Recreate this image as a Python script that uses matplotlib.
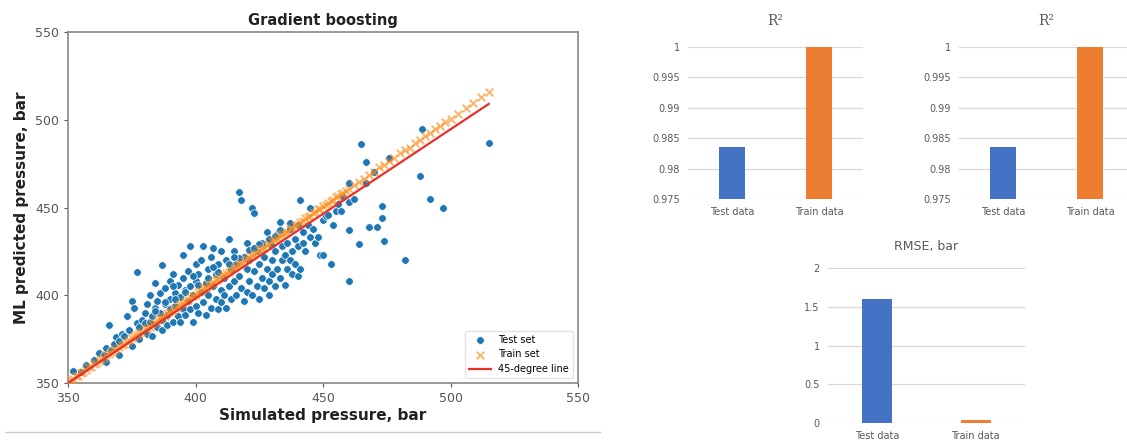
import numpy as np
import matplotlib.pyplot as plt
from matplotlib.lines import Line2D

# Test-set scatter points (simulated, predicted)
test_x = [352, 355, 357, 360, 362, 364, 365, 366, 367, 368, 369, 370, 371, 372, 373, 374, 375, 376, 377, 377, 378, 379, 380,
          365, 370, 375, 378,
          380, 381, 381, 382, 382, 383, 383, 384, 384, 385, 385, 386, 386, 387, 387, 387, 388, 388, 389, 389, 390, 390, 390,
          391, 391, 392, 392, 393, 393, 394, 394, 395, 395, 395, 396, 396, 397, 397, 398, 398, 398, 399, 399, 400, 400, 400,
          401, 401, 402, 402, 403, 403, 404, 404, 405, 405, 406, 406, 407, 407, 408, 408, 409, 409, 410, 410, 410,
          411, 411, 412, 412, 413, 413, 414, 414, 415, 415, 416, 416, 417, 417, 418, 418, 419, 419, 420, 420, 420,
          421, 421, 422, 422, 423, 423, 424, 424, 425, 425, 426, 426, 427, 427, 428, 428, 429, 429, 430, 430, 430,
          431, 431, 432, 432, 433, 433, 434, 434, 435, 435, 436, 436, 437, 437, 438, 438, 439, 439, 440, 440, 440,
          441, 441, 442, 442, 443, 444, 445, 445, 446, 447, 448, 449, 450, 450, 451, 452, 453, 454, 455, 456, 457, 458,
          460, 460, 460, 460, 462,
          464, 465, 467, 467, 468, 471, 473, 473, 474, 482, 488, 489, 492, 497, 515, 470, 476,
          384, 388, 392, 396, 401, 405, 409, 413, 417, 421, 425, 429, 433, 437, 391, 399, 407, 415, 423, 431]
test_y = [357, 356, 360, 363, 367, 366, 370, 383, 369, 372, 376, 374, 378, 377, 388, 380, 397, 393, 413, 384, 382, 386, 384,
          362, 366, 371, 375,
          390, 378, 395, 385, 400, 388, 377, 393, 407, 382, 397, 390, 401, 386, 417, 380, 395, 404, 389, 383, 398, 392, 408,
          412, 385, 401, 394, 388, 406, 385, 399, 423, 392, 410, 403, 389, 397, 414, 428, 392, 405, 385, 400, 418, 394, 408,
          390, 412, 402, 420, 428, 396, 407, 389, 415, 400, 393, 422, 427, 405, 398, 412, 392, 418, 403, 425, 396,
          410, 400, 393, 420, 432, 405, 398, 415, 408, 425, 400, 418, 459, 411, 454, 404, 422, 397, 402, 415, 430,
          408, 420, 450, 400, 447, 414, 425, 405, 418, 398, 430, 410, 404, 422, 415, 436, 408, 400, 420, 428, 412,
          405, 425, 415, 435, 442, 410, 428, 420, 406, 423, 430, 415, 420, 438, 412, 425, 432, 418, 411, 428, 440,
          454, 415, 430, 436, 425, 440, 450, 433, 438, 430, 433, 423, 443, 423, 445, 446, 418, 440, 448, 452, 448, 456,
          437, 453, 464, 408, 455,
          429, 486, 476, 464, 439, 439, 451, 444, 431, 420, 468, 495, 455, 450, 487, 470, 478,
          391, 396, 398, 402, 406, 410, 413, 418, 421, 426, 429, 432, 437, 441, 405, 411, 416, 422, 427, 434]

# Train-set points hug the diagonal
train_x = [350, 351, 352, 353, 354, 355, 356, 357, 358, 359, 360, 361, 362, 363, 364, 365, 366, 367, 368, 369,
           370, 371, 372, 373, 374, 375, 376, 377, 378, 379, 380, 381, 382, 383, 384, 385, 386, 387, 388, 389,
           390, 391, 392, 393, 394, 395, 396, 397, 398, 399, 400, 401, 402, 403, 404, 405, 406, 407, 408, 409,
           410, 411, 412, 413, 414, 415, 416, 417, 418, 419, 420, 421, 422, 423, 424, 425, 426, 427, 428, 429,
           430, 431, 432, 433, 434, 435, 436, 437, 438, 439, 440, 441, 442, 443, 444, 445, 446, 447, 448, 449,
           450, 451, 452, 453, 454, 455, 456, 457, 458, 459, 460, 462, 464, 466, 468, 470, 472, 474, 476, 478,
           480, 482, 484, 486, 488, 490, 492, 494, 496, 498, 500, 503, 506, 509, 512, 515]
train_y = [350.4, 351.6, 352.3, 353.8, 354.2, 355.7, 356.5, 357.3, 358.9, 359.4, 360.6, 361.2, 362.8, 363.5, 364.1,
           365.7, 366.4, 367.9, 368.2, 369.6, 370.3, 371.8, 372.5, 373.1, 374.7, 375.4, 376.9, 377.2, 378.6, 379.3,
           380.8, 381.5, 382.1, 383.7, 384.4, 385.9, 386.2, 387.6, 388.3, 389.8, 390.5, 391.1, 392.7, 393.4, 394.9,
           395.2, 396.6, 397.3, 398.8, 399.5, 400.1, 401.7, 402.4, 403.9, 404.2, 405.6, 406.3, 407.8, 408.5, 409.1,
           410.7, 411.4, 412.9, 413.2, 414.6, 415.3, 416.8, 417.5, 418.1, 419.7, 420.4, 421.9, 422.2, 423.6, 424.3,
           425.8, 426.5, 427.1, 428.7, 429.4, 430.9, 431.2, 432.6, 433.3, 434.8, 435.5, 436.1, 437.7, 438.4, 439.9,
           440.2, 441.6, 442.3, 443.8, 444.5, 445.1, 446.7, 447.4, 448.9, 449.2, 450.6, 451.3, 452.8, 453.5, 454.1,
           455.7, 456.4, 457.9, 458.2, 459.6, 460.3, 462.8, 464.5, 466.1, 468.7, 470.4, 472.9, 474.2, 476.6, 478.3,
           480.8, 482.5, 484.1, 486.7, 488.4, 490.9, 492.2, 494.6, 496.3, 498.8, 500.5, 503.1, 506.7, 509.4, 512.9, 515.6]

line_x = [350, 515]
line_y = [350, 509]

categories = ["Test data", "Train data"]
r2_left = [0.9836, 0.99998]
r2_right = [0.9836, 0.99998]
rmse = [1.60, 0.03]

blue = "#4472C4"
orange = "#ED7D31"
grid_c = "#D9D9D9"
text_c = "#595959"

fig = plt.figure(figsize=(11.27, 4.48), dpi=100)

# Scatter panel
ax = fig.add_axes([68 / 1127, 65 / 448, 510 / 1127, 351 / 448])
ax.scatter(test_x, test_y, s=30, color="#1f77b4", edgecolor="white", linewidth=0.5, label="Test set", zorder=2)
ax.scatter(train_x, train_y, s=30, marker="x", color="#ff8c1a", alpha=0.65, linewidth=1.4, label="Train set", zorder=3)
ax.plot(line_x, line_y, color="#e8312a", linewidth=1.6, label="45-degree line", zorder=4)
ax.set_xlim(350, 550)
ax.set_ylim(350, 550)
ax.set_xticks([350, 400, 450, 500, 550])
ax.set_yticks([350, 400, 450, 500, 550])
ax.tick_params(labelsize=9, colors="#555555", length=3)
for s in ax.spines.values():
    s.set_color("#888888")
    s.set_linewidth(1.2)
ax.set_title("Gradient boosting", fontsize=10.5, fontweight="bold", color="#222222", pad=5)
ax.set_xlabel("Simulated pressure, bar", fontsize=11, fontweight="bold", color="#222222", labelpad=2)
ax.set_ylabel("ML predicted pressure, bar", fontsize=11, fontweight="bold", color="#222222", labelpad=4)
leg = ax.legend(loc="lower right", fontsize=7, frameon=True, handlelength=2.2)
leg.get_frame().set_edgecolor("#dddddd")

fig.add_artist(Line2D([5 / 1127, 600 / 1127], [1 - 432 / 448, 1 - 432 / 448], color="#cccccc", linewidth=1))


def excel_bars(rect, values, ylim, yticks, ylabels, title, title_y, title_font, title_size):
    a = fig.add_axes(rect)
    a.bar([0, 1], values, width=0.3, color=[blue, orange], zorder=3)
    a.set_xlim(-0.5, 1.5)
    a.set_ylim(*ylim)
    a.set_yticks(yticks)
    a.set_yticklabels(ylabels)
    a.set_xticks([0, 1])
    a.set_xticklabels(categories)
    a.grid(axis="y", color=grid_c, linewidth=0.9, zorder=0)
    for s in a.spines.values():
        s.set_visible(False)
    a.tick_params(length=0, labelsize=7, colors=text_c, pad=6)
    a.text(0.5, title_y, title, transform=a.transAxes, ha="center", va="center",
           fontsize=title_size, color=text_c, family=title_font)
    return a


r2_ticks = [0.975, 0.98, 0.985, 0.99, 0.995, 1.0]
r2_labels = ["0.975", "0.98", "0.985", "0.99", "0.995", "1"]

excel_bars([688 / 1127, 1 - 199 / 448, 175 / 1127, 152.3 / 448], r2_left,
           (0.975, 1.0), r2_ticks, r2_labels, "R²", 1.17, "DejaVu Serif", 10)
excel_bars([959 / 1127, 1 - 199 / 448, 175 / 1127, 152.3 / 448], r2_right,
           (0.975, 1.0), r2_ticks, r2_labels, "R²", 1.17, "DejaVu Serif", 10)
excel_bars([828 / 1127, 1 - 422.7 / 448, 197 / 1127, 154.4 / 448], rmse,
           (0, 2), [0, 0.5, 1, 1.5, 2], ["0", "0.5", "1", "1.5", "2"], "RMSE, bar", 1.14, "DejaVu Sans", 9)

fig.savefig("out.png", dpi=100)
